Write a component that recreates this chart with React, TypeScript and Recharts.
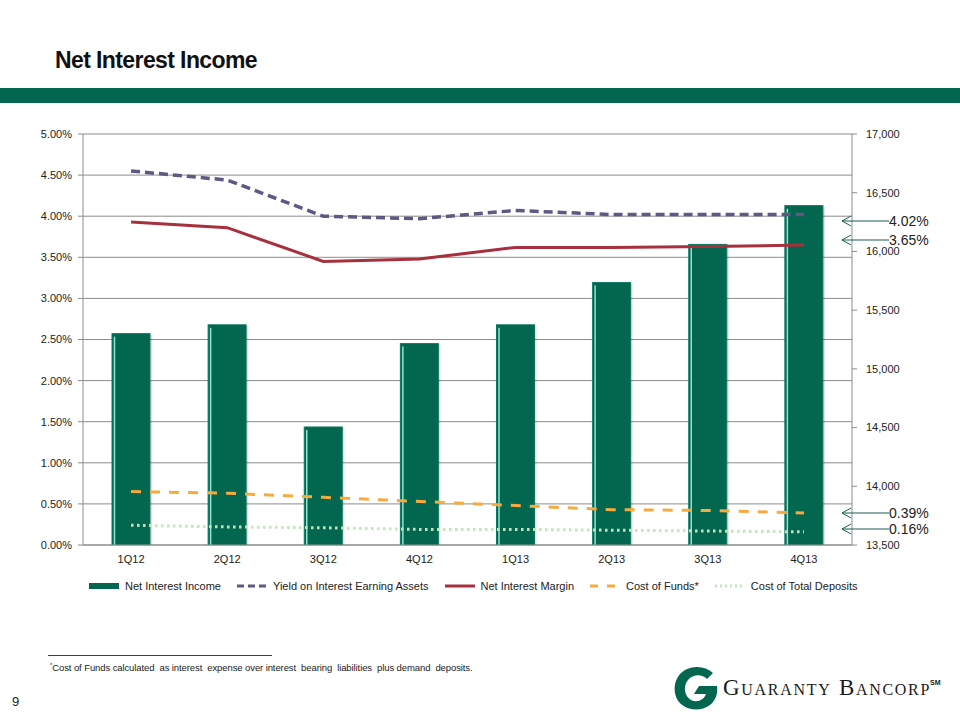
import React from 'react';
import {
  ComposedChart,
  Bar,
  Line,
  XAxis,
  YAxis,
  CartesianGrid,
} from 'recharts';

const quarters = ['1Q12', '2Q12', '3Q12', '4Q12', '1Q13', '2Q13', '3Q13', '4Q13'];
// $ thousands, right axis
const netInterestIncome = [15300, 15375, 14505, 15215, 15375, 15735, 16060, 16390];
// percent, left axis
const yieldOnAssets = [4.55, 4.44, 4.0, 3.97, 4.07, 4.02, 4.02, 4.02];
const netInterestMargin = [3.93, 3.86, 3.45, 3.48, 3.62, 3.62, 3.63, 3.65];
const costOfFunds = [0.65, 0.63, 0.58, 0.53, 0.48, 0.43, 0.42, 0.39];
const costOfDeposits = [0.24, 0.22, 0.21, 0.19, 0.19, 0.18, 0.17, 0.16];

const leftTicks = [0, 0.5, 1, 1.5, 2, 2.5, 3, 3.5, 4, 4.5, 5];
const rightTicks = [13500, 14000, 14500, 15000, 15500, 16000, 16500, 17000];
const boundaryTicks = [0, 1, 2, 3, 4, 5, 6, 7, 8];

const COLORS = {
  brand: '#03664f',
  barHighlight: '#8fe6cf',
  yield: '#5e5883',
  nim: '#a6303d',
  funds: '#f6ab41',
  deposits: '#c6e3c1',
  grid: '#8c8c8c',
  text: '#222222',
  arrow: '#1d5f52',
};

const FONT = '"Liberation Sans", Arial, sans-serif';

const chartData = quarters.map((q, i) => ({
  quarter: q,
  nii: netInterestIncome[i],
  yieldAssets: yieldOnAssets[i],
  nim: netInterestMargin[i],
  funds: costOfFunds[i],
  deposits: costOfDeposits[i],
}));

// Excel-style bar: dark fill with a light inner edge on the left
const NiiBar = (props: any) => {
  const { x, y, width, height } = props;
  if (!height || height <= 0) return null;
  return (
    <g>
      <rect x={x + 2} y={y + 1} width={width} height={height - 1} fill="rgba(0,0,0,0.12)" />
      <rect x={x} y={y} width={width} height={height} fill={COLORS.brand} stroke="#0b7a61" strokeWidth={1} />
      <line x1={x + 2.5} y1={y + 3} x2={x + 2.5} y2={y + height} stroke={COLORS.barHighlight} strokeWidth={1.5} />
    </g>
  );
};

const legendItems = [
  { label: 'Net Interest Income', kind: 'bar', color: COLORS.brand, dash: '' },
  { label: 'Yield on Interest Earning Assets', kind: 'line', color: COLORS.yield, dash: '7 4' },
  { label: 'Net Interest Margin', kind: 'line', color: COLORS.nim, dash: '' },
  { label: 'Cost of Funds*', kind: 'line', color: COLORS.funds, dash: '8 9' },
  { label: 'Cost of Total Deposits', kind: 'line', color: COLORS.deposits, dash: '2 3' },
];

const ChartLegend = () => (
  <div style={{ position: 'absolute', left: 88, top: 580, display: 'flex', alignItems: 'center', fontFamily: FONT, fontSize: 11, color: COLORS.text }}>
    {legendItems.map((item) => (
      <div key={item.label} style={{ display: 'flex', alignItems: 'center', marginRight: 15 }}>
        <svg width={32} height={10} style={{ marginRight: 5 }}>
          {item.kind === 'bar' ? (
            <rect x={1} y={2} width={30} height={6} fill={item.color} />
          ) : (
            <line x1={1} y1={5} x2={31} y2={5} stroke={item.color} strokeWidth={3} strokeDasharray={item.dash || undefined} />
          )}
        </svg>
        <span style={{ whiteSpace: 'nowrap' }}>{item.label}</span>
      </div>
    ))}
  </div>
);

// callouts beside the right axis for the latest values
const callouts = [
  { text: `${yieldOnAssets[7].toFixed(2)}%`, y: 221 },
  { text: `${netInterestMargin[7].toFixed(2)}%`, y: 240 },
  { text: `${costOfFunds[7].toFixed(2)}%`, y: 513 },
  { text: `${costOfDeposits[7].toFixed(2)}%`, y: 529 },
];

const Callouts = () => (
  <svg width={960} height={720} style={{ position: 'absolute', left: 0, top: 0, pointerEvents: 'none' }}>
    {callouts.map((c) => (
      <g key={c.text}>
        <polyline points={`851,${c.y - 5} 842,${c.y} 851,${c.y + 5}`} fill="none" stroke={COLORS.arrow} strokeWidth={1} />
        <line x1={842} y1={c.y} x2={889} y2={c.y} stroke={COLORS.arrow} strokeWidth={1} />
        <text x={889} y={c.y + 5} fontFamily={FONT} fontSize={14} fill={COLORS.text}>{c.text}</text>
      </g>
    ))}
  </svg>
);

const Logo = () => (
  <div style={{ position: 'absolute', left: 672, top: 664, display: 'flex', alignItems: 'center' }}>
    <svg width={48} height={48} viewBox="0 0 48 48">
      <path
        d="M41 9 C34 2 22 1 13 6 C3 12 0 25 5 35 C11 46 27 49 38 41 C44 36 46 29 45 22 L27 22 L22 30 L34 30 C32 36 25 39 19 36 C12 32 11 22 16 16 C21 10 30 10 35 15 Z"
        fill={COLORS.brand}
      />
    </svg>
    <span style={{ marginLeft: 3, fontFamily: '"Liberation Serif", "DejaVu Serif", serif', fontSize: 23, fontVariant: 'small-caps', color: '#1a1a1a', letterSpacing: 1.7 }}>
      Guaranty Bancorp
    </span>
    <span style={{ fontFamily: FONT, fontSize: 7, fontWeight: 'bold', color: '#1a1a1a', marginTop: -12, marginLeft: -1 }}>SM</span>
  </div>
);

const App: React.FC = () => {
  return (
    <div style={{ position: 'absolute', left: 0, top: 0, width: 960, height: 720, background: '#ffffff', fontFamily: FONT, overflow: 'hidden' }}>
      <div style={{ position: 'absolute', left: 55, top: 47, fontSize: 23, fontWeight: 'bold', color: '#111', letterSpacing: -0.6 }}>
        Net Interest Income
      </div>
      <div style={{ position: 'absolute', left: 0, top: 88, width: 960, height: 15, background: COLORS.brand }} />

      <div style={{ position: 'absolute', left: 0, top: 0 }}>
        <ComposedChart width={960} height={600} data={chartData} margin={{ top: 134, right: 48, left: 23, bottom: 25 }}>
          <CartesianGrid yAxisId="left" vertical={false} stroke={COLORS.grid} strokeWidth={1} />
          <XAxis
            xAxisId="bounds"
            type="number"
            domain={[0, 8]}
            ticks={boundaryTicks}
            height={0}
            tick={false}
            tickSize={5}
            tickLine={{ stroke: COLORS.grid }}
            axisLine={false}
          />
          <XAxis
            dataKey="quarter"
            height={30}
            tickLine={false}
            tickSize={0}
            tickMargin={10}
            axisLine={{ stroke: COLORS.grid }}
            tick={{ fill: COLORS.text, fontSize: 11, fontFamily: FONT }}
            interval={0}
          />
          <YAxis
            yAxisId="left"
            domain={[0, 5]}
            ticks={leftTicks}
            tickFormatter={(v) => `${Number(v).toFixed(2)}%`}
            width={60}
            tickSize={5}
            tickMargin={6}
            axisLine={{ stroke: COLORS.grid }}
            tickLine={{ stroke: COLORS.grid }}
            tick={{ fill: COLORS.text, fontSize: 11, fontFamily: FONT }}
          />
          <YAxis
            yAxisId="right"
            orientation="right"
            domain={[13500, 17000]}
            ticks={rightTicks}
            tickFormatter={(v) => Number(v).toLocaleString('en-US')}
            width={60}
            tickSize={5}
            tickMargin={9}
            axisLine={{ stroke: COLORS.grid }}
            tickLine={{ stroke: COLORS.grid }}
            tick={{ fill: COLORS.text, fontSize: 11, fontFamily: FONT }}
            allowDataOverflow
          />

          <Bar yAxisId="right" dataKey="nii" barSize={38} shape={<NiiBar />} isAnimationActive={false} />

          <Line yAxisId="left" type="linear" dataKey="yieldAssets" stroke={COLORS.yield} strokeWidth={3.5} strokeDasharray="9 5" dot={false} isAnimationActive={false} />
          <Line yAxisId="left" type="linear" dataKey="nim" stroke={COLORS.nim} strokeWidth={3} dot={false} isAnimationActive={false} />
          <Line yAxisId="left" type="linear" dataKey="funds" stroke={COLORS.funds} strokeWidth={3} strokeDasharray="10 9" dot={false} isAnimationActive={false} />
          <Line yAxisId="left" type="linear" dataKey="deposits" stroke={COLORS.deposits} strokeWidth={3} strokeDasharray="2.5 3.5" dot={false} isAnimationActive={false} />
        </ComposedChart>
      </div>

      <Callouts />
      <ChartLegend />

      <div style={{ position: 'absolute', left: 48, top: 655, width: 224, height: 1, background: '#1d4f45' }} />
      <div style={{ position: 'absolute', left: 50, top: 662, fontSize: 9.5, color: COLORS.text, letterSpacing: -0.1, whiteSpace: 'pre' }}>
        <sup style={{ fontSize: 6 }}>*</sup>Cost of Funds calculated  as interest  expense over interest  bearing  liabilities  plus demand  deposits.
      </div>
      <div style={{ position: 'absolute', left: 12, top: 694, fontSize: 13, color: COLORS.text }}>9</div>

      <Logo />
    </div>
  );
};

export default App;
